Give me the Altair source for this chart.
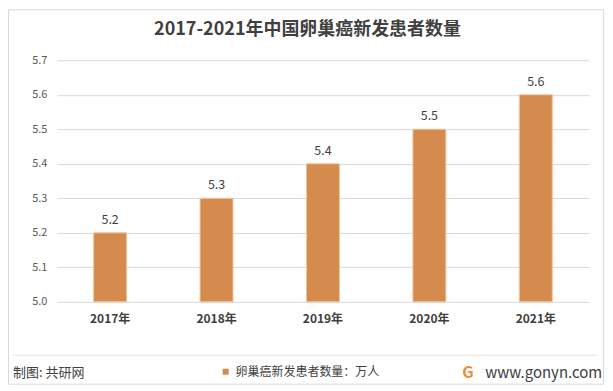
import altair as alt
import pandas as pd

# ---- data ----
years = ["2017年", "2018年", "2019年", "2020年", "2021年"]
values = [5.2, 5.3, 5.4, 5.5, 5.6]
series_name = "卵巢癌新发患者数量：万人"
title_text = "2017-2021年中国卵巢癌新发患者数量"
source_text = "制图: 共研网"
site_text = "www.gonyn.com"
logo_text = "G"
y_ticks = [5.0, 5.1, 5.2, 5.3, 5.4, 5.5, 5.6, 5.7]

FONT = "Noto Sans CJK SC"
BAR = "#D48B4D"
TXT = "#404040"

df = pd.DataFrame({"year": years, "value": values, "series": [series_name] * len(years)})

x_enc = alt.X("year:N", sort=years, title=None,
              scale=alt.Scale(paddingInner=0.69, paddingOuter=0.345),
              axis=alt.Axis(labelAngle=0, domain=False, ticks=False, labelPadding=12,
                            labelFontSize=12, labelColor=TXT, labelFont=FONT,
                            labelFontWeight="bold", grid=False))
y_enc = alt.Y("value:Q", scale=alt.Scale(domain=[5.0, 5.7], zero=False, nice=False), title=None,
              axis=alt.Axis(values=y_ticks, format=".1f", domain=False, ticks=False,
                            labelOverlap=False, tickCount=8,
                            labelPadding=10, labelFontSize=11, labelColor="#595959",
                            labelFont=FONT, gridColor="#D9D9D9", gridWidth=1))

bars = alt.Chart(df).mark_bar(stroke="#F2C6A0", strokeWidth=1).encode(
    x=x_enc,
    y=y_enc,
    y2=alt.datum(5.0),
    color=alt.Color("series:N", scale=alt.Scale(range=[BAR]),
                    legend=alt.Legend(orient="none", legendX=163, legendY=306, title=None,
                                      symbolType="square", symbolSize=36, symbolStrokeWidth=0,
                                      labelFontSize=12, labelFont=FONT, labelColor=TXT,
                                      labelOffset=4)),
)

labels = alt.Chart(df).mark_text(baseline="bottom", dy=-6, fontSize=12.5, font=FONT,
                                 color=TXT).encode(
    x=x_enc, y=y_enc, text=alt.Text("value:Q", format=".1f"))

one = pd.DataFrame({"title": [title_text], "src": [source_text], "site": [site_text], "logo": [logo_text]})

title = alt.Chart(one).mark_text(fontSize=18, fontWeight="bold", font=FONT, color=TXT,
                                 baseline="middle", align="center").encode(
    x=alt.value(251), y=alt.value(-30), text="title:N")

frame = alt.Chart(one).mark_rect(fillOpacity=0, stroke="#D9D9D9", strokeWidth=1).encode(
    x=alt.value(-48.5), x2=alt.value(547.5), y=alt.value(-50.5), y2=alt.value(324.5))

sep = alt.Chart(one).mark_rule(color="#E3E3E3", strokeWidth=1).encode(
    x=alt.value(-44), x2=alt.value(541), y=alt.value(295.5))

src = alt.Chart(one).mark_text(fontSize=13, font=FONT, color=TXT, align="left",
                               baseline="middle").encode(
    x=alt.value(-44), y=alt.value(313), text="src:N")

logo = alt.Chart(one).mark_text(fontSize=16, font=FONT, fontWeight="bold", color="#F28A3A",
                                align="left", baseline="middle").encode(
    x=alt.value(406), y=alt.value(313), text="logo:N")

site = alt.Chart(one).mark_text(fontSize=15, font=FONT, color=TXT, align="left",
                                baseline="middle").encode(
    x=alt.value(429), y=alt.value(313), text="site:N")

chart = alt.layer(frame, bars, labels, title, sep, src, logo, site).properties(
    width=533, height=242,
    autosize=alt.AutoSizeParams(type="none"),
    padding={"left": 49, "top": 52, "right": 16, "bottom": 89},
    background="white",
).configure_view(stroke=None)

chart.save("out.html", embed_options={"renderer": "svg", "actions": False})
